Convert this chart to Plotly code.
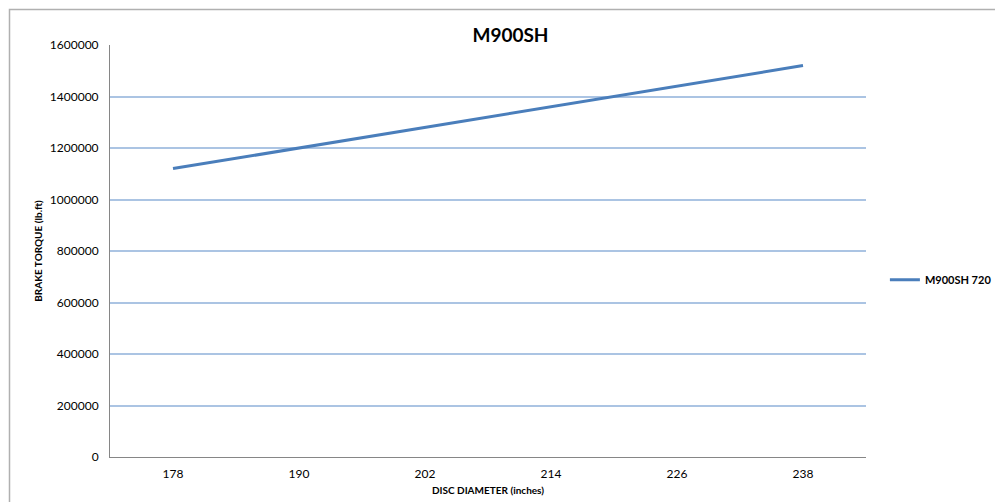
import plotly.graph_objects as go

categories = ["178", "190", "202", "214", "226", "238"]
torque = [1120000, 1200000, 1280000, 1360000, 1440000, 1520000]
series_name = "M900SH 720"
y_ticks = [0, 200000, 400000, 600000, 800000, 1000000, 1200000, 1400000, 1600000]

FONT = "Lato, Open Sans, Liberation Sans, sans-serif"

fig = go.Figure()
fig.add_trace(go.Scatter(
    x=categories, y=torque, mode="lines", name="<b>" + series_name + "</b>",
    line=dict(color="#4A7EBB", width=3),
))

fig.update_layout(
    width=995, height=494,
    margin=dict(l=102, r=137, t=37, b=45, autoexpand=False),
    paper_bgcolor="white", plot_bgcolor="white",
    font=dict(family=FONT, size=11, color="black"),
    title=dict(text="<b>M900SH</b>", x=0.505, xanchor="center", y=0.945, yanchor="middle",
               font=dict(size=19, family=FONT)),
    showlegend=True,
    legend=dict(x=1.025, y=0.43, xanchor="left", yanchor="middle",
                font=dict(size=11, family=FONT), itemwidth=30,
                bgcolor="rgba(0,0,0,0)"),
    xaxis=dict(type="category", range=[-0.5, 5.5], showgrid=False, automargin=False,
               showline=True, linecolor="#868686", linewidth=1, ticks="",
               tickfont=dict(size=12), ticklabelstandoff=6,
               title=dict(text="<b>DISC DIAMETER (inches)</b>", font=dict(size=10), standoff=6)),
    yaxis=dict(range=[0, 1600000], tickvals=y_ticks, ticktext=[str(v) for v in y_ticks],
               showgrid=True, gridcolor="#ABC4E3", gridwidth=1.8, automargin=False,
               showline=True, linecolor="#868686", linewidth=1, ticks="",
               tickfont=dict(size=12), zeroline=False, ticklabelstandoff=8,
               title=dict(text="<b>BRAKE TORQUE (lb.ft)</b>", font=dict(size=10), standoff=5)),
    shapes=[dict(type="rect", xref="paper", yref="paper",
                 x0=(9.5 - 110) / 756, x1=(1000 - 110) / 756,
                 y0=-0.3, y1=(457 - 9.5) / 412,
                 line=dict(color="#B0B0B0", width=1.5), layer="below")],
)

fig.write_html("out.html")
